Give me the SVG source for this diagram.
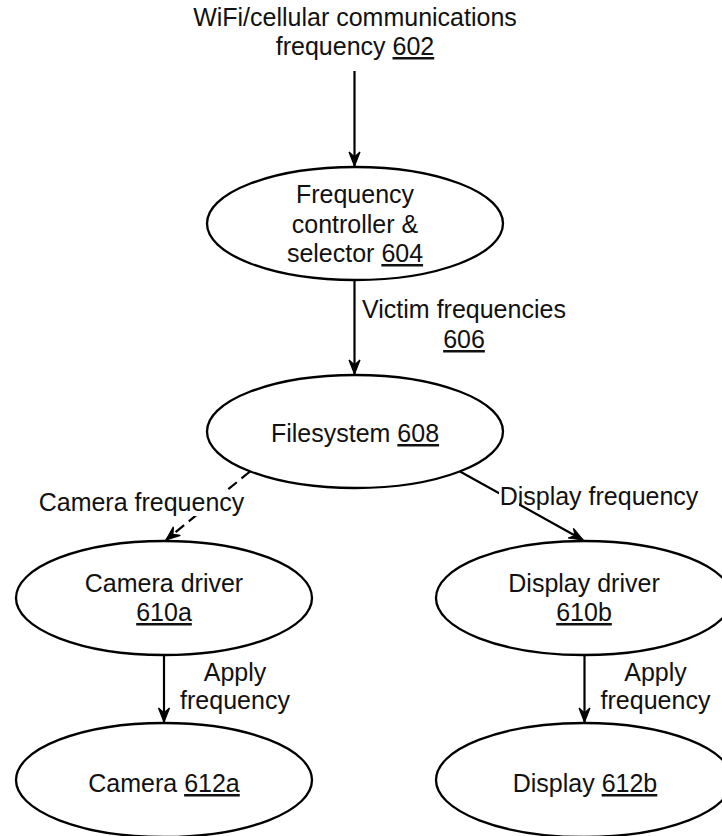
<svg xmlns="http://www.w3.org/2000/svg" width="722" height="836" viewBox="0 0 722 836">
  <style>
    .node { fill: #ffffff; stroke: #000000; stroke-width: 2.3; }
    .lbl { font-family: "Liberation Sans", Arial, sans-serif; font-size: 25px; fill: #111111; text-anchor: middle; }
    .ref { text-decoration: underline; }
    .edge { stroke: #000000; stroke-width: 2.2; fill: none; marker-end: url(#arrow); }
    .dashed { stroke-dasharray: 11 6; }
    .mask { fill: #ffffff; stroke: none; }
  </style>
  <defs>
    <!-- narrow notched arrowhead, tip at the line end -->
    <marker id="arrow" markerUnits="userSpaceOnUse" markerWidth="18" markerHeight="16" viewBox="-16 -8 18 16" refX="0" refY="0" orient="auto">
      <path d="M0,0 L-14,-5.5 L-9,0 L-14,5.5 Z" fill="#000000" stroke="#000000" stroke-width="1.2" stroke-linejoin="miter"/>
    </marker>
  </defs>

  <!-- source label at the top -->
  <g id="source-602">
    <text class="lbl" x="355" y="26">WiFi/cellular communications</text>
    <text class="lbl" x="355" y="55">frequency <tspan class="ref">602</tspan></text>
  </g>

  <!-- connectors -->
  <g id="connectors">
    <line class="edge" x1="354.5" y1="71" x2="354.5" y2="166"/>
    <line class="edge" x1="354.5" y1="280" x2="354.5" y2="374"/>
    <line class="edge dashed" x1="250" y1="471.5" x2="166" y2="540"/>
    <line class="edge" x1="460" y1="471.5" x2="583" y2="540"/>
    <line class="edge" x1="164" y1="655" x2="164" y2="722"/>
    <line class="edge" x1="584.5" y1="655" x2="584.5" y2="722"/>
  </g>

  <!-- connector labels -->
  <g id="edge-labels">
    <text class="lbl" x="464" y="318">Victim frequencies</text>
    <text class="lbl" x="464" y="348"><tspan class="ref">606</tspan></text>
    <rect class="mask" x="39" y="492" width="205" height="24"/>
    <text class="lbl" x="141.5" y="511">Camera frequency</text>
    <rect class="mask" x="499" y="484" width="20" height="24"/>
    <text class="lbl" x="599" y="505">Display frequency</text>
    <text class="lbl" x="235" y="681">Apply</text>
    <text class="lbl" x="235" y="709">frequency</text>
    <text class="lbl" x="655.5" y="681">Apply</text>
    <text class="lbl" x="655.5" y="709">frequency</text>
  </g>

  <g id="controller-604">
    <ellipse class="node" cx="355" cy="223.5" rx="148" ry="56.5"/>
    <text class="lbl" x="355" y="203">Frequency</text>
    <text class="lbl" x="355" y="233">controller &amp;</text>
    <text class="lbl" x="355" y="262">selector <tspan class="ref">604</tspan></text>
  </g>

  <g id="filesystem-608">
    <ellipse class="node" cx="355" cy="431.5" rx="148" ry="56.5"/>
    <text class="lbl" x="355" y="442">Filesystem <tspan class="ref">608</tspan></text>
  </g>

  <g id="camera-driver-610a">
    <ellipse class="node" cx="164" cy="598" rx="148" ry="57"/>
    <text class="lbl" x="164" y="592">Camera driver</text>
    <text class="lbl" x="164" y="621"><tspan class="ref">610a</tspan></text>
  </g>

  <g id="display-driver-610b">
    <ellipse class="node" cx="584" cy="598" rx="148" ry="57"/>
    <text class="lbl" x="584" y="592">Display driver</text>
    <text class="lbl" x="584" y="621"><tspan class="ref">610b</tspan></text>
  </g>

  <g id="camera-612a">
    <ellipse class="node" cx="164" cy="780" rx="148" ry="57"/>
    <text class="lbl" x="164" y="792">Camera <tspan class="ref">612a</tspan></text>
  </g>

  <g id="display-612b">
    <ellipse class="node" cx="584" cy="780" rx="148" ry="57"/>
    <text class="lbl" x="585" y="792">Display <tspan class="ref">612b</tspan></text>
  </g>
</svg>
